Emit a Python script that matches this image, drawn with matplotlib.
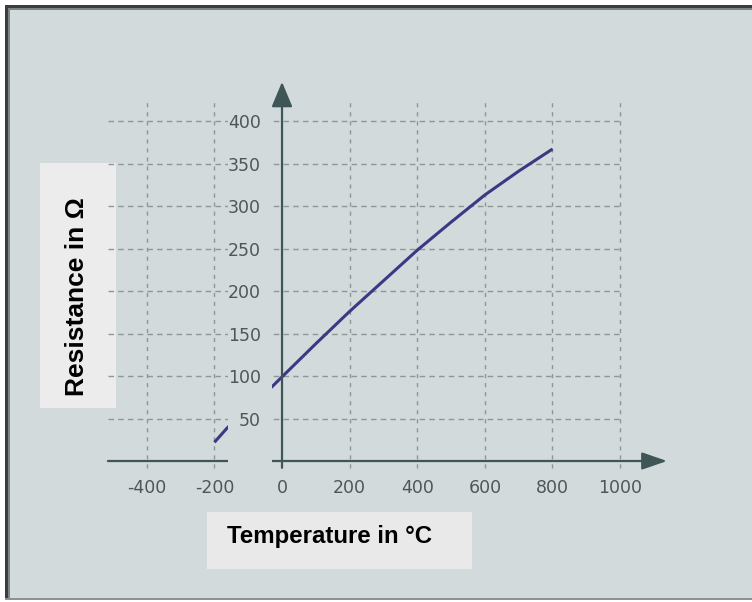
import matplotlib.pyplot as plt
import matplotlib.patches as patches
import numpy as np

# curve (temperature in degC, resistance in ohm)
temp = [-200, -162, -28, 0, 100, 200, 300, 400, 500, 600, 700, 800]
res = [22, 39, 88, 99, 138, 176, 212, 248, 281, 313, 341, 367]

xticks = [-400, -200, 0, 200, 400, 600, 800, 1000]
yticks = [50, 100, 150, 200, 250, 300, 350, 400]
xgrid = [-400, -200, 200, 400, 600, 800, 1000]

W, H = 752, 602
BG = '#d3dadc'
AXC = '#3f5656'
GRIDC = '#8e9697'
CURVEC = '#3a3a84'

plt.rcParams['axes.unicode_minus'] = False


def fr(x0, y0, x1, y1):
    # pixel box (top-left origin) -> figure fraction rect
    return (x0 / W, 1 - y1 / H), (x1 - x0) / W, (y1 - y0) / H


fig = plt.figure(figsize=(W / 100, H / 100), dpi=100, facecolor='white')

# background + frame
xy, w, h = fr(5, 5, 752, 600)
fig.patches.append(patches.Rectangle(xy, w, h, transform=fig.transFigure,
                                     facecolor=BG, edgecolor='none', zorder=0))
for box, c in [((5, 5, 8, 600), '#3a3e3f'), ((5, 5, 752, 8), '#3a3e3f'),
               ((8, 8, 9.5, 600), '#7d8486'), ((8, 8, 752, 9.5), '#7d8486'),
               ((5, 598, 752, 600), '#8c9193')]:
    xy, w, h = fr(*box)
    fig.patches.append(patches.Rectangle(xy, w, h, transform=fig.transFigure,
                                         facecolor=c, edgecolor='none', zorder=1))

# label boxes
xy, w, h = fr(40, 163, 116, 408)
fig.patches.append(patches.Rectangle(xy, w, h, transform=fig.transFigure,
                                     facecolor='#ececec', edgecolor='none', zorder=2))
xy, w, h = fr(207, 512, 472, 569)
fig.patches.append(patches.Rectangle(xy, w, h, transform=fig.transFigure,
                                     facecolor='#e9e9e9', edgecolor='none', zorder=2))
fig.text(77 / W, 1 - 297 / H, 'Resistance in Ω', rotation=90, ha='center', va='center',
         fontsize=19, fontweight='bold', family=['Liberation Sans', 'DejaVu Sans'])
fig.text(227 / W, 1 - 536 / H, 'Temperature in °C', ha='left', va='center',
         fontsize=17.3, fontweight='bold', family=['Liberation Sans', 'DejaVu Sans'])

ax = fig.add_axes([0.1233, 0.1989, 0.8136, 0.6989])
ax.set_zorder(5)
ax.set_facecolor('none')
ax.set_xlim(-560, 1250)
ax.set_ylim(-25, 470)
for s in ax.spines.values():
    s.set_visible(False)
# tick labels sit along the zero lines
ax.spines['left'].set_position(('data', 0))
ax.spines['bottom'].set_position(('data', 0))

# dashed grid
ax.hlines(yticks, -515, 1000, colors=GRIDC, lw=1.0, linestyles=(0, (4, 3)), zorder=1)
ax.vlines(xgrid, -8, 422, colors=GRIDC, lw=1.0, linestyles=(0, (3, 3.5)), zorder=1)

ax.plot(temp, res, color=CURVEC, lw=2.2, solid_capstyle='butt', zorder=2)

# axes with arrows
ax.annotate('', xy=(1139, 0), xytext=(-515, 0),
            arrowprops=dict(arrowstyle='-|>,head_length=1.1,head_width=0.38',
                            mutation_scale=14, color=AXC, lw=1.6,
                            shrinkA=0, shrinkB=0), zorder=2)
ax.annotate('', xy=(0, 446), xytext=(0, -8),
            arrowprops=dict(arrowstyle='-|>,head_length=1.1,head_width=0.46',
                            mutation_scale=14, color=AXC, lw=1.6,
                            shrinkA=0, shrinkB=0), zorder=4)

# the band behind the y tick labels hides grid, axis and curve
ax.add_patch(patches.Rectangle((-160, -12), 130, 442, facecolor=BG,
                               edgecolor='none', zorder=3))

ax.set_xticks(xticks)
ax.set_yticks(yticks)
ax.tick_params(length=0, labelsize=12.5, labelcolor='#4e5656')
ax.tick_params(axis='x', pad=13)
ax.tick_params(axis='y', pad=15)
ax.xaxis.set_zorder(5)
ax.yaxis.set_zorder(5)
ax.grid(False)

fig.savefig('out.png', dpi=100, facecolor='white')
